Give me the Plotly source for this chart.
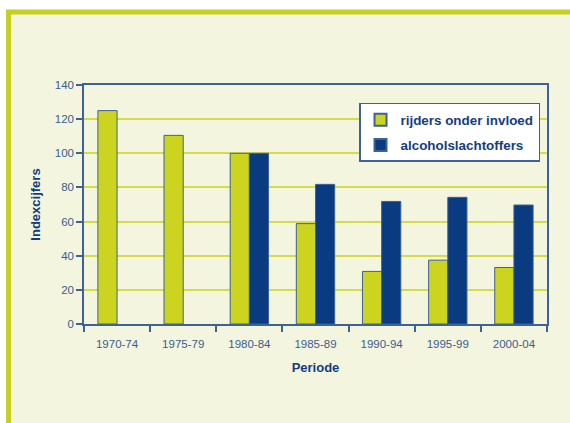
import plotly.graph_objects as go

periods = ["1970-74", "1975-79", "1980-84", "1985-89", "1990-94", "1995-99", "2000-04"]
rijders = [125, 110.5, 100, 58.8, 30.8, 37.4, 33.1]
slachtoffers = [None, None, 100, 81.8, 71.8, 74.2, 69.7]
y_ticks = [0, 20, 40, 60, 80, 100, 120, 140]

YELLOW = "#cdd41f"
BLUE = "#0a3a80"
EDGE = "#3d6296"
TXT = "#3b5d8e"
TITLE = "#123d82"
FONT = "Liberation Sans, Arial, sans-serif"

fig = go.Figure()
fig.add_trace(go.Bar(x=periods, y=rijders, name="rijders onder invloed", legendgroup="a",
                     marker=dict(color=YELLOW, line=dict(color=EDGE, width=1))))
fig.add_trace(go.Bar(x=periods, y=slachtoffers, name="alcoholslachtoffers", legendgroup="b",
                     marker=dict(color=BLUE, line=dict(color=EDGE, width=1))))

# outer frame
fig.add_shape(type="rect", xref="paper", yref="paper", layer="below",
              x0=-0.163, x1=1.2, y0=-0.6, y1=1.305,
              line=dict(color="#c6d020", width=5), fillcolor="#f3f5de")

fig.update_layout(
    width=570, height=423,
    margin=dict(l=84, r=23, t=85, b=99),
    paper_bgcolor="white", plot_bgcolor="white",
    barmode="group", bargap=0.42, bargroupgap=0,
    font=dict(family=FONT, size=11, color=TXT),
    showlegend=True,
    legend=dict(x=0.594, y=0.925, xanchor="left", yanchor="top",
                bgcolor="white", bordercolor=EDGE, borderwidth=1.5,
                font=dict(family=FONT, size=13.4, color=TITLE, weight="bold"),
                tracegroupgap=5,
                itemsizing="constant"),
)
fig.update_xaxes(
    type="category", showline=True, linecolor=EDGE, linewidth=1.5, mirror=True,
    ticks="outside", tickson="boundaries", ticklen=6, tickcolor=EDGE, tickwidth=1.5,
    tickfont=dict(size=11.5, color=TXT), ticklabelstandoff=8,
    title=dict(text="Periode", font=dict(size=13, color=TITLE, weight="bold"), standoff=14),
)
fig.update_yaxes(
    range=[0, 140], tickvals=y_ticks, showgrid=True, gridcolor="#d6dc48", gridwidth=1.5,
    zeroline=False, showline=True, linecolor=EDGE, linewidth=1.5, mirror=True,
    ticks="outside", ticklen=6, tickcolor=EDGE, tickwidth=1.5,
    tickfont=dict(size=11.5, color=TXT),
    title=dict(text="Indexcijfers", font=dict(size=13, color=TITLE, weight="bold"), standoff=11),
)

fig.write_html("out.html")
